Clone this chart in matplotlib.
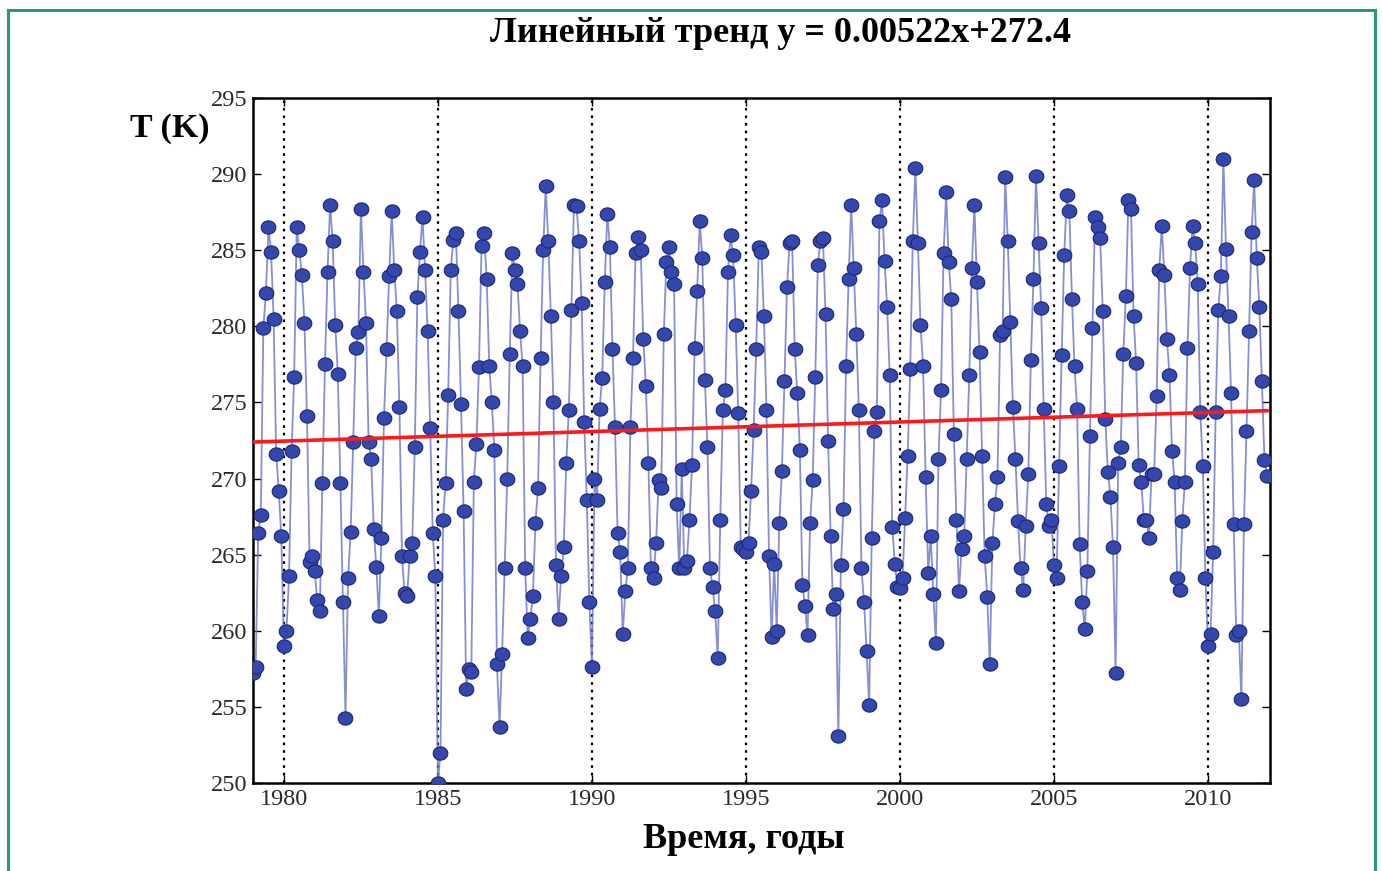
import matplotlib

matplotlib.use("Agg")
import matplotlib.pyplot as plt
import numpy as np
from matplotlib.lines import Line2D
from matplotlib.path import Path

# monthly mean temperature, K (Jan..Dec)
t1979 = [257.2, 257.6, 266.4, 267.6, 279.9, 282.2, 286.5, 284.9, 280.5, 271.6, 269.2, 266.2]
t1980 = [259.0, 260.0, 263.6, 271.8, 276.7, 286.5, 285.0, 283.4, 280.2, 274.1, 264.5, 264.9]
t1981 = [263.9, 262.0, 261.3, 269.7, 277.5, 283.6, 288.0, 285.6, 280.1, 276.9, 269.7, 261.9]
t1982 = [254.3, 263.5, 266.5, 272.4, 278.6, 279.6, 287.7, 283.6, 280.2, 272.4, 271.3, 266.7]
t1983 = [264.2, 261.0, 266.1, 274.0, 278.5, 283.3, 287.6, 283.7, 281.0, 274.7, 264.9, 262.5]
t1984 = [262.3, 264.9, 265.8, 272.1, 281.9, 284.9, 287.2, 283.7, 279.7, 273.3, 266.4, 263.6]
t1985 = [250.0, 252.0, 267.3, 269.7, 275.5, 283.7, 285.7, 286.1, 281.0, 274.9, 267.9, 256.2]
t1986 = [257.5, 257.3, 269.8, 272.3, 277.3, 285.3, 286.1, 283.1, 277.4, 275.0, 271.9, 257.8]
t1987 = [253.7, 258.5, 264.1, 270.0, 278.2, 284.8, 283.7, 282.8, 279.7, 277.4, 264.1, 259.5]
t1988 = [260.8, 262.3, 267.1, 269.4, 277.9, 285.0, 289.2, 285.6, 280.7, 275.0, 264.3, 260.8]
t1989 = [263.6, 265.5, 271.0, 274.5, 281.1, 288.0, 287.9, 285.6, 281.5, 273.7, 268.6, 261.9]
t1990 = [257.6, 270.0, 268.6, 274.6, 276.6, 282.9, 287.4, 285.2, 278.5, 273.4, 266.4, 265.2]
t1991 = [259.8, 262.6, 264.1, 273.4, 277.9, 284.8, 285.9, 285.0, 279.2, 276.1, 271.0, 264.1]
t1992 = [263.5, 265.8, 269.9, 269.4, 279.5, 284.2, 285.2, 283.6, 282.8, 268.3, 264.1, 270.6]
t1993 = [264.1, 264.6, 267.3, 270.9, 278.6, 282.3, 286.9, 284.5, 276.5, 272.1, 264.1, 262.9]
t1994 = [261.3, 258.2, 267.3, 274.5, 275.8, 283.6, 286.0, 284.7, 280.1, 274.3, 265.5, 265.4]
t1995 = [265.2, 265.8, 269.2, 273.2, 278.5, 285.2, 284.9, 280.7, 274.5, 264.9, 259.6, 264.4]
t1996 = [260.0, 267.1, 270.5, 276.4, 282.6, 285.5, 285.6, 278.5, 275.6, 271.9, 263.0, 261.6]
t1997 = [259.7, 267.1, 269.9, 276.7, 284.0, 285.6, 285.8, 280.8, 272.5, 266.2, 261.4, 262.4]
t1998 = [253.1, 264.3, 268.0, 277.4, 283.1, 288.0, 283.8, 279.5, 274.5, 264.1, 261.9, 258.7]
t1999 = [255.1, 266.1, 273.1, 274.4, 286.9, 288.3, 284.3, 281.3, 276.8, 266.8, 264.4, 262.9]
t2000 = [262.8, 263.5, 267.4, 271.5, 277.2, 285.6, 290.4, 285.5, 280.1, 277.4, 270.1, 263.8]
t2001 = [266.2, 262.4, 259.2, 271.3, 275.8, 284.8, 288.8, 284.2, 281.8, 272.9, 267.3, 262.6]
t2002 = [265.4, 266.2, 271.3, 276.8, 283.8, 288.0, 282.9, 278.3, 271.5, 264.9, 262.2, 257.8]
t2003 = [265.8, 268.3, 270.1, 279.4, 279.7, 289.8, 285.6, 280.3, 274.7, 271.3, 267.2, 264.1]
t2004 = [262.7, 266.9, 270.3, 277.8, 283.1, 289.9, 285.5, 281.2, 274.6, 268.3, 266.9, 267.3]
t2005 = [264.3, 263.5, 270.8, 278.1, 284.7, 288.6, 287.6, 281.8, 277.4, 274.6, 265.7, 261.9]
t2006 = [260.1, 263.9, 272.8, 279.9, 287.2, 286.5, 285.8, 281.0, 273.9, 270.4, 268.8, 265.5]
t2007 = [257.2, 271.0, 272.1, 278.2, 282.0, 288.3, 287.7, 280.7, 277.6, 270.9, 269.8, 267.3]
t2008 = [267.3, 266.1, 270.3, 270.3, 275.4, 283.7, 286.6, 283.4, 279.2, 276.8, 271.8, 269.8]
t2009 = [263.5, 262.7, 267.2, 269.8, 278.6, 283.8, 286.6, 285.5, 282.8, 274.4, 270.8, 263.5]
t2010 = [259.0, 259.8, 265.2, 274.4, 281.1, 283.3, 291.0, 285.1, 280.7, 275.6, 267.0, 259.7]
t2011 = [260.0, 255.5, 267.0, 273.1, 279.7, 286.2, 289.6, 284.5, 281.3, 276.4, 271.2, 270.2]

start_year = 1979
trend_slope = 0.00522
trend_intercept = 272.4
year_ticks = [1980, 1985, 1990, 1995, 2000, 2005, 2010]
temp_ticks = [250, 255, 260, 265, 270, 275, 280, 285, 290, 295]

temps = np.array(
    t1979 + t1980 + t1981 + t1982 + t1983 + t1984 + t1985 + t1986 + t1987
    + t1988 + t1989 + t1990 + t1991 + t1992 + t1993 + t1994 + t1995 + t1996
    + t1997 + t1998 + t1999 + t2000 + t2001 + t2002 + t2003 + t2004 + t2005
    + t2006 + t2007 + t2008 + t2009 + t2010 + t2011
)
month_idx = np.arange(len(temps))
time = start_year + month_idx / 12.0
trend = trend_slope * month_idx + trend_intercept

plt.rcParams["font.family"] = ["Liberation Serif", "DejaVu Serif"]

fig = plt.figure(figsize=(13.83, 8.71), dpi=100)
ax = fig.add_axes([0.183, 0.101, 0.735, 0.7865])

# marker: circle stretched a little sideways
theta = np.linspace(0, 2 * np.pi, 60)
blob = Path(np.column_stack([1.1 * np.cos(theta), np.sin(theta)]), closed=True)

ax.plot(time, temps, color="#6a72c8", lw=1.3, alpha=0.8, zorder=2)
ax.plot(time, temps, ls="none", marker=blob, ms=10.5, mfc="#3447ad",
        mec="#1c2775", mew=0.8, zorder=3)
ax.plot(time, trend, color="#ff1a1a", lw=2.6, zorder=4)

ax.set_xlim(1979, 2012)
ax.set_ylim(250, 295)
ax.set_xticks(year_ticks)
ax.set_yticks(temp_ticks)
ax.xaxis.grid(True, color="black", linestyle=(0, (1.2, 2.2)), lw=1.6)
ax.tick_params(direction="in", top=True, right=True, length=6, width=1,
               labelsize=17.5, labelcolor="#2a2a2a", pad=4)
for sp in ax.spines.values():
    sp.set_linewidth(1.8)

fig.text(0.564, 0.962, f"Линейный тренд y = {trend_slope}x+{trend_intercept}",
         ha="center", va="center", fontsize=26, fontweight="bold")
fig.text(0.123, 0.852, "T (K)", ha="center", va="center", fontsize=24.5,
         fontweight="bold")
fig.text(0.538, 0.036, "Время, годы", ha="center", va="center", fontsize=26,
         fontweight="bold")

# thin green page frame
frame_color = "#2a9a6a"
fig.add_artist(Line2D([0.006, 0.994], [0.989, 0.989], color=frame_color, lw=2.2))
fig.add_artist(Line2D([0.006, 0.006], [0.0, 0.989], color=frame_color, lw=2.2))
fig.add_artist(Line2D([0.994, 0.994], [0.0, 0.989], color=frame_color, lw=2.2))

fig.savefig("out.png", dpi=100)
